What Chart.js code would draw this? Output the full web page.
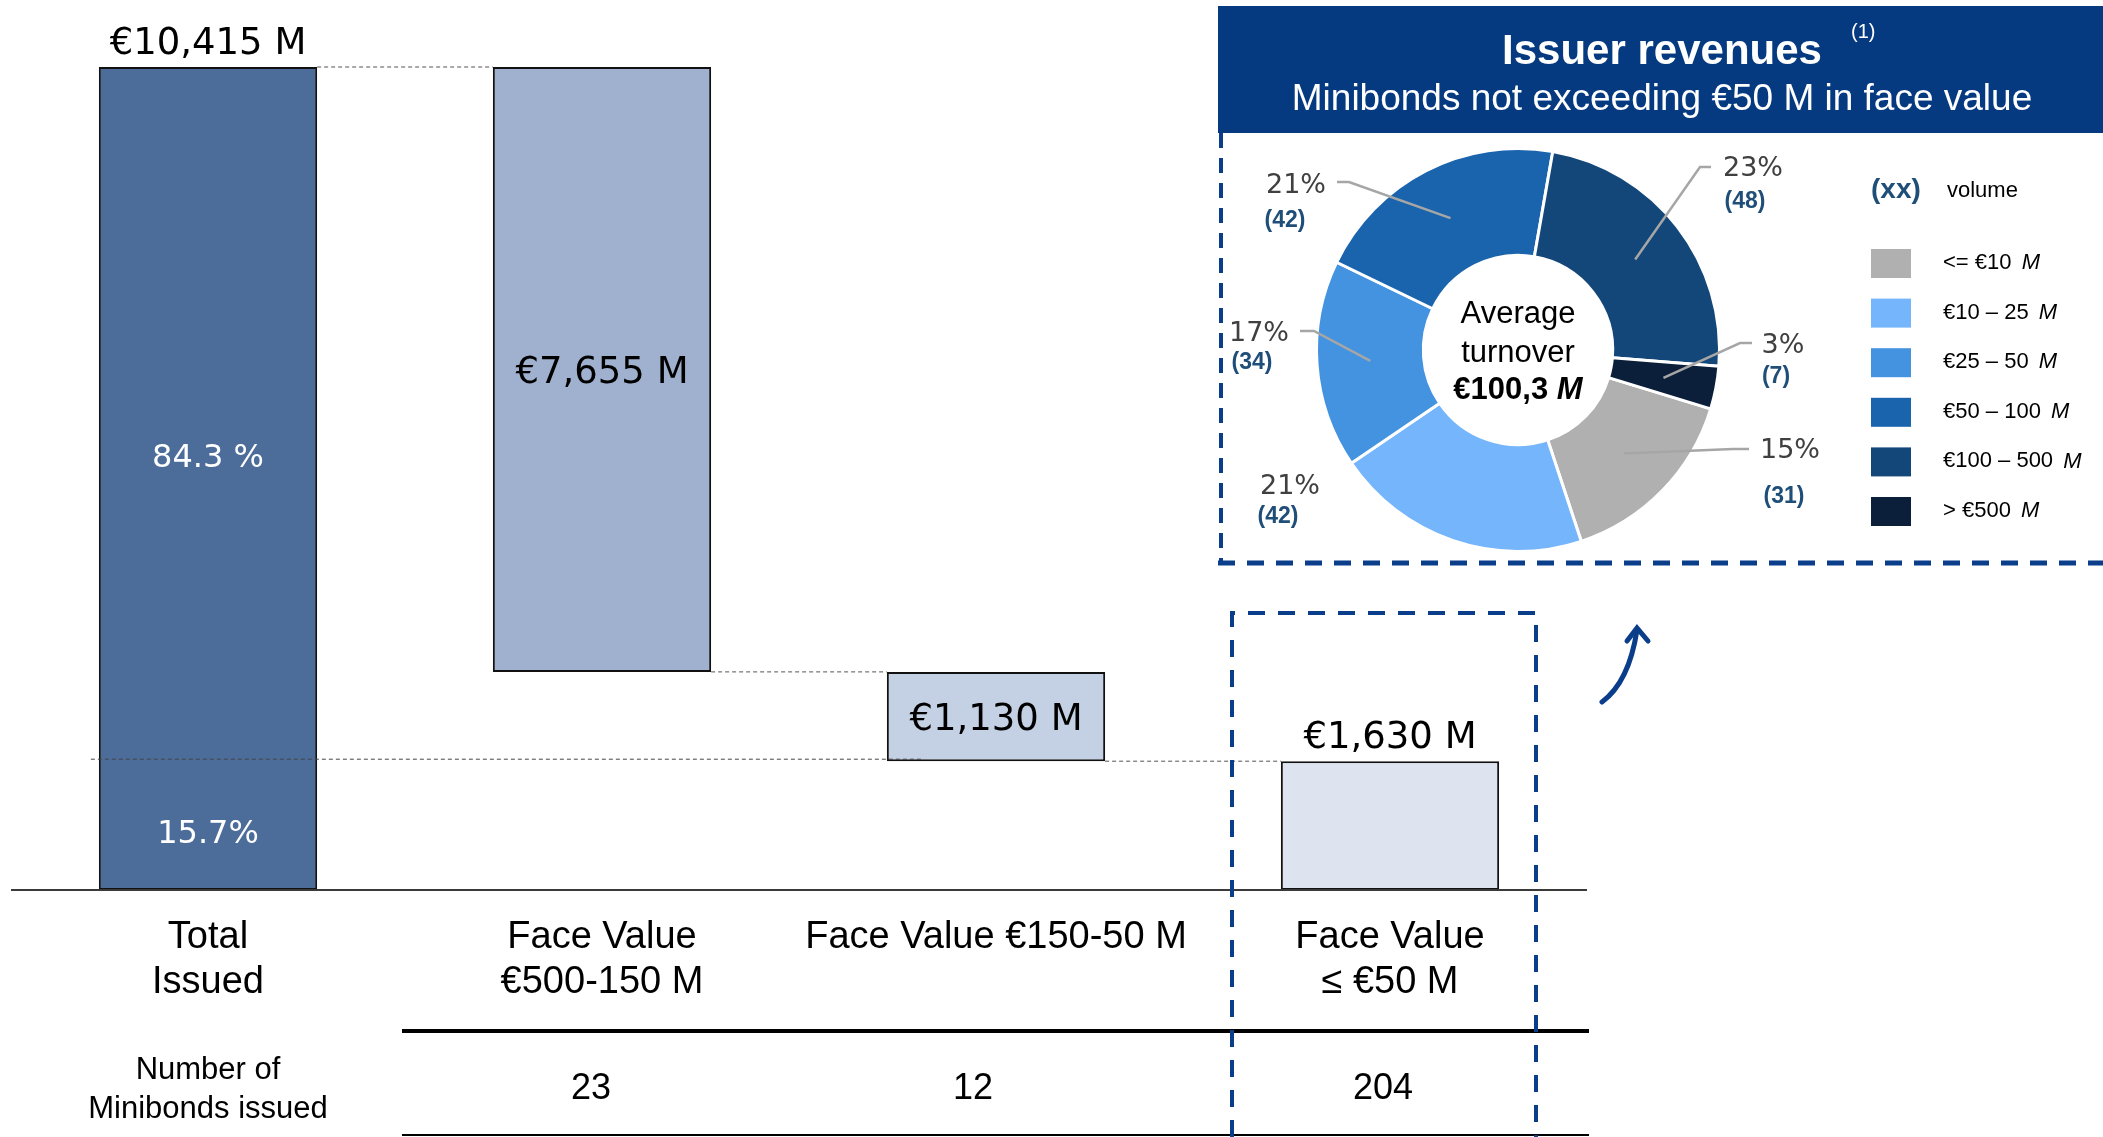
<!DOCTYPE html>
<html>
<head>
<meta charset="utf-8">
<script src="https://cdn.jsdelivr.net/npm/chart.js@4.4.1/dist/chart.umd.min.js"></script>
<style>
  html, body { margin:0; padding:0; background:#fff; }
  #wrap { position:relative; width:2103px; height:1137px; overflow:hidden; }
  #barChart { position:absolute; left:0; top:0; }
  #pieChart { position:absolute; left:1218px; top:0; }
</style>
</head>
<body>
<div id="wrap">
  <canvas id="barChart" width="2103" height="1137"></canvas>
  <canvas id="pieChart" width="885" height="580"></canvas>
</div>
<script>
// waterfall: total issued split by face value band
var categories = [['Total', 'Issued'], ['Face Value', '€500-150 M'], ['Face Value €150-50 M'], ['Face Value', '≤ €50 M']];
var totalIssued = 10415;
var splitValues = [7655, 1130, 1630];
var shareLabels = ['84.3 %', '15.7%'];
var countTitle = ['Number of', 'Minibonds issued'];
var bondCounts = [23, 12, 204];

// issuer revenues, minibonds <= €50 M
var revenueBands = ['<= €10', '€10 – 25', '€25 – 50', '€50 – 100', '€100 – 500', '> €500'];
var revenueVolumes = [31, 42, 34, 42, 48, 7];
var revenueShares = [15, 21, 17, 21, 23, 3];
var averageTurnover = '€100,3';

var barColors = ['#4c6c9a', '#9fb1cf', '#c4d0e3', '#dde4ef'];
var revenueColors = ['#b0b0b0', '#74b5fc', '#4493e0', '#1a64ad', '#144779', '#0b1f3a'];
var navy = '#0a3d8a';

// floating bars for the waterfall
var barValues = [totalIssued].concat(splitValues);
var floating = [[0, totalIssued]];
var runLevel = totalIssued;
splitValues.forEach(function (v) {
  floating.push([runLevel - v, runLevel]);
  runLevel -= v;
});

function fmt(v) {
  return String(v).replace(/\B(?=(\d{3})+(?!\d))/g, ',');
}
function seg(ctx, x1, y1, x2, y2) {
  ctx.beginPath(); ctx.moveTo(x1, y1); ctx.lineTo(x2, y2); ctx.stroke();
}

var labelAbove = [true, false, false, true];
var countShift = [-11, -23, -7];

var waterfallDecor = {
  id: 'waterfallDecor',
  afterDatasetsDraw: function (chart) {
    var ctx = chart.ctx;
    var yS = chart.scales.y;
    var area = chart.chartArea;
    var bars = chart.getDatasetMeta(0).data;
    var y0 = yS.getPixelForValue(0);
    var half = bars[0].width / 2;
    var i;
    ctx.save();

    // baseline
    ctx.strokeStyle = '#3a3a3a';
    ctx.lineWidth = 2;
    seg(ctx, area.left, y0, area.right, y0);

    // connectors
    ctx.setLineDash([4, 3]);
    ctx.strokeStyle = '#555';
    ctx.lineWidth = 1;
    for (i = 0; i < bars.length - 1; i++) {
      var lvl = Math.min(bars[i + 1].y, bars[i + 1].base);
      seg(ctx, bars[i].x + half, lvl, bars[i + 1].x - half, lvl);
    }
    // share divider across the total bar
    var yDiv = yS.getPixelForValue(splitValues[splitValues.length - 1]);
    ctx.strokeStyle = '#444';
    seg(ctx, bars[0].x - half - 8, yDiv - 2, bars[2].x - half + 35, yDiv - 2);
    ctx.setLineDash([]);

    // value labels
    ctx.textAlign = 'center';
    ctx.textBaseline = 'middle';
    ctx.font = '37px "DejaVu Sans"';
    ctx.fillStyle = '#000';
    bars.forEach(function (bar, k) {
      var t = Math.min(bar.y, bar.base), b = Math.max(bar.y, bar.base);
      var cy = labelAbove[k] ? t - 23 : (t + b) / 2 + 4;
      ctx.fillText('€' + fmt(barValues[k]) + ' M', bar.x, cy);
    });

    // shares inside the total bar
    ctx.font = '32px "DejaVu Sans"';
    ctx.fillStyle = '#fff';
    ctx.fillText(shareLabels[0], bars[0].x, (yS.getPixelForValue(totalIssued) + yDiv) / 2 + 45);
    ctx.fillText(shareLabels[1], bars[0].x, (yDiv + y0) / 2 + 9);

    // category labels
    ctx.font = '38px "Liberation Sans"';
    ctx.fillStyle = '#000';
    bars.forEach(function (bar, k) {
      categories[k].forEach(function (ln, j) {
        ctx.fillText(ln, bar.x, y0 + 48 + j * 45);
      });
    });

    // count table
    ctx.strokeStyle = '#000';
    ctx.lineWidth = 4;
    seg(ctx, bars[1].x - 200, y0 + 141, area.right + 2, y0 + 141);
    ctx.lineWidth = 2;
    seg(ctx, bars[1].x - 200, y0 + 245, area.right + 2, y0 + 245);
    ctx.font = '31px "Liberation Sans"';
    countTitle.forEach(function (ln, j) {
      ctx.fillText(ln, bars[0].x, y0 + 180 + j * 39);
    });
    ctx.font = '36px "Liberation Sans"';
    bondCounts.forEach(function (n, k) {
      ctx.fillText(String(n), bars[k + 1].x + countShift[k], y0 + 199);
    });

    // dashed highlight around the <= €50 M bar
    var last = bars[bars.length - 1];
    ctx.strokeStyle = navy;
    ctx.lineWidth = 4;
    ctx.setLineDash([17, 13]);
    ctx.beginPath();
    ctx.moveTo(last.x - 158, chart.height);
    ctx.lineTo(last.x - 158, 613);
    ctx.lineTo(last.x + 146, 613);
    ctx.lineTo(last.x + 146, chart.height);
    ctx.stroke();
    ctx.setLineDash([]);

    // arrow towards the doughnut panel
    ctx.lineWidth = 5;
    ctx.lineCap = 'round';
    ctx.beginPath();
    ctx.moveTo(1602, 702);
    ctx.quadraticCurveTo(1629, 682, 1637, 630);
    ctx.stroke();
    ctx.beginPath();
    ctx.moveTo(1627, 641);
    ctx.lineTo(1637, 628);
    ctx.lineTo(1648, 641);
    ctx.stroke();
    ctx.restore();
  }
};

new Chart(document.getElementById('barChart'), {
  type: 'bar',
  data: {
    labels: categories,
    datasets: [{
      data: floating,
      backgroundColor: barColors,
      borderColor: '#111',
      borderWidth: 2,
      borderSkipped: false,
      barPercentage: 0.554,
      categoryPercentage: 1
    }]
  },
  options: {
    responsive: false,
    devicePixelRatio: 1,
    animation: false,
    layout: { padding: { left: 11, right: 516, top: 67, bottom: 247 } },
    scales: {
      x: { display: false },
      y: { display: false, min: 0, max: totalIssued }
    },
    plugins: { legend: { display: false }, tooltip: { enabled: false } }
  },
  plugins: [waterfallDecor]
});

// label placement around the doughnut, offsets from its centre
var pieLabelLayout = [
  { elbow: [215, 99], end: [231, 99], pct: [272, 100], vol: [266, 146] },
  { elbow: null, pct: [-228, 136], vol: [-240, 166] },
  { elbow: [-204, -19], end: [-218, -19], pct: [-259, -17], vol: [-266, 12] },
  { elbow: [-169, -168], end: [-181, -168], pct: [-222, -165], vol: [-233, -130] },
  { elbow: [182, -183], end: [193, -183], pct: [235, -182], vol: [227, -149] },
  { elbow: [222, -7], end: [234, -7], pct: [265, -5], vol: [258, 26] }
];

var pieDecor = {
  id: 'pieDecor',
  beforeDraw: function (chart) {
    var ctx = chart.ctx;
    ctx.save();
    // header
    ctx.fillStyle = '#053a80';
    ctx.fillRect(0, 6, chart.width, 127);
    ctx.fillStyle = '#fff';
    ctx.textAlign = 'center';
    ctx.textBaseline = 'alphabetic';
    ctx.font = 'bold 42px "Liberation Sans"';
    ctx.fillText('Issuer revenues', 444, 64);
    ctx.font = '37px "Liberation Sans"';
    ctx.fillText('Minibonds not exceeding €50 M in face value', 444, 110);
    ctx.textAlign = 'left';
    ctx.font = '20px "Liberation Sans"';
    ctx.fillText('(1)', 633, 38);
    // dashed panel border
    ctx.strokeStyle = navy;
    ctx.lineWidth = 4;
    ctx.setLineDash([15, 10]);
    seg(ctx, 3, 133, 3, 563);
    ctx.lineWidth = 5;
    ctx.setLineDash([17, 12]);
    seg(ctx, 0, 563, chart.width, 563);
    ctx.restore();
  },
  afterDatasetsDraw: function (chart) {
    var ctx = chart.ctx;
    var arcs = chart.getDatasetMeta(0).data;
    var cx = arcs[0].x, cy = arcs[0].y;
    ctx.save();

    // leader lines
    ctx.strokeStyle = '#a6a6a6';
    ctx.lineWidth = 2.5;
    arcs.forEach(function (arc, k) {
      var L = pieLabelLayout[k];
      if (!L.elbow) return;
      var p = arc.getCenterPoint();
      ctx.beginPath();
      ctx.moveTo(p.x, p.y);
      ctx.lineTo(cx + L.elbow[0], cy + L.elbow[1]);
      ctx.lineTo(cx + L.end[0], cy + L.end[1]);
      ctx.stroke();
    });

    // percentages and volumes
    ctx.textAlign = 'center';
    ctx.textBaseline = 'middle';
    arcs.forEach(function (arc, k) {
      var L = pieLabelLayout[k];
      ctx.font = '27px "DejaVu Sans"';
      ctx.fillStyle = '#404040';
      ctx.fillText(revenueShares[k] + '%', cx + L.pct[0], cy + L.pct[1] + 1);
      ctx.font = 'bold 23px "Liberation Sans"';
      ctx.fillStyle = '#1f4e79';
      ctx.fillText('(' + revenueVolumes[k] + ')', cx + L.vol[0], cy + L.vol[1] + 1);
    });

    // centre text
    ctx.fillStyle = '#000';
    ctx.font = '31px "Liberation Sans"';
    ctx.fillText('Average', cx, cy - 36);
    ctx.fillText('turnover', cx, cy + 3);
    ctx.font = 'bold 31px "Liberation Sans"';
    var a = averageTurnover + ' ';
    var wa = ctx.measureText(a).width;
    ctx.font = 'italic bold 31px "Liberation Sans"';
    var wm = ctx.measureText('M').width;
    var x0 = cx - (wa + wm) / 2;
    ctx.textAlign = 'left';
    ctx.font = 'bold 31px "Liberation Sans"';
    ctx.fillText(a, x0, cy + 40);
    ctx.font = 'italic bold 31px "Liberation Sans"';
    ctx.fillText('M', x0 + wa, cy + 40);

    // legend
    ctx.font = 'bold 28px "Liberation Sans"';
    ctx.fillStyle = '#1f4e79';
    ctx.fillText('(xx)', 653, 190);
    ctx.font = '22px "Liberation Sans"';
    ctx.fillStyle = '#000';
    ctx.fillText('volume', 729, 191);
    revenueBands.forEach(function (band, k) {
      var top = 249 + k * 49.6;
      ctx.fillStyle = revenueColors[k];
      ctx.fillRect(653, top, 40, 29);
      ctx.fillStyle = '#000';
      ctx.font = '22px "Liberation Sans"';
      var t = band + ' ';
      ctx.fillText(t, 725, top + 14);
      var w = ctx.measureText(t).width;
      ctx.font = 'italic 22px "Liberation Sans"';
      ctx.fillText('M', 725 + w + 4, top + 14);
    });
    ctx.restore();
  }
};

new Chart(document.getElementById('pieChart'), {
  type: 'doughnut',
  data: {
    labels: revenueBands,
    datasets: [{
      data: revenueVolumes,
      backgroundColor: revenueColors,
      borderColor: '#fff',
      borderWidth: 3
    }]
  },
  options: {
    responsive: false,
    devicePixelRatio: 1,
    animation: false,
    rotation: 107,
    cutout: '47%',
    layout: { padding: { left: 97, right: 382, top: 147, bottom: 27 } },
    plugins: { legend: { display: false }, tooltip: { enabled: false } }
  },
  plugins: [pieDecor]
});
</script>
</body>
</html>
